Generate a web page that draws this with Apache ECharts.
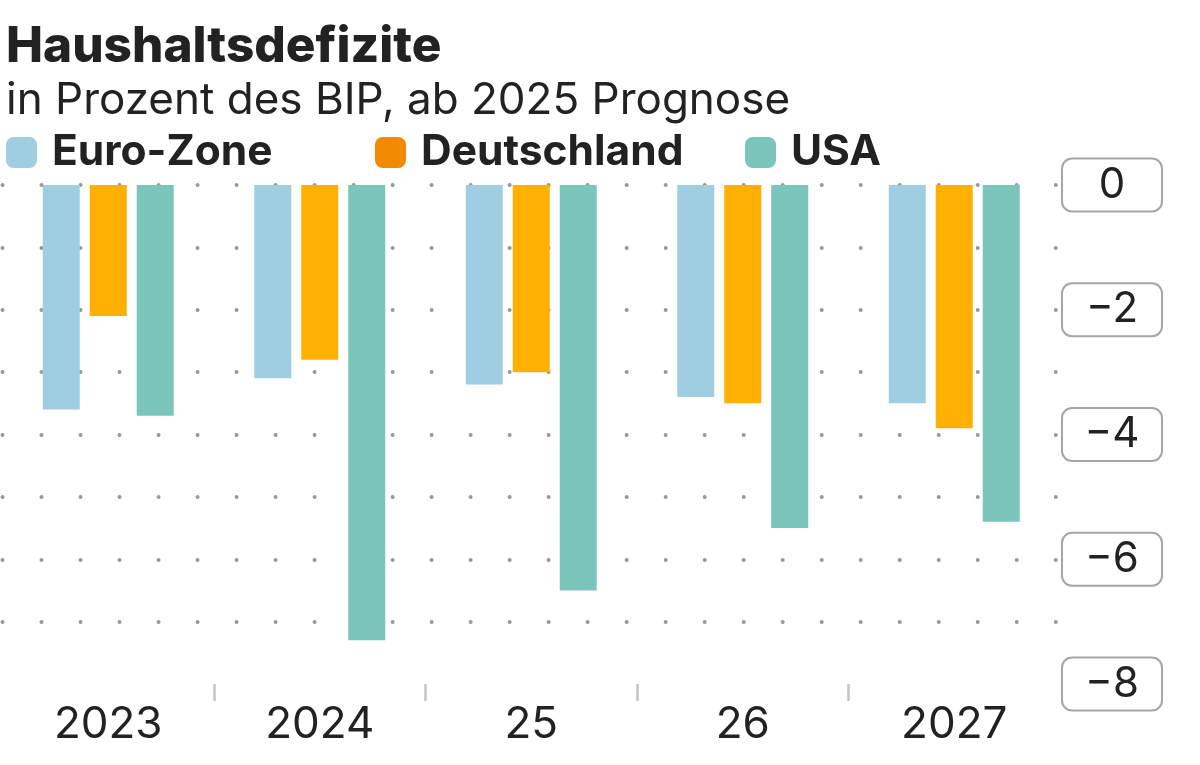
<!DOCTYPE html>
<html>
<head>
<meta charset="utf-8">
<script src="https://cdn.jsdelivr.net/npm/echarts@6/dist/echarts.min.js"></script>
<style>
html,body{margin:0;padding:0;background:#fff;}
#chart{width:1200px;height:765px;}
</style>
</head>
<body>
<div id="chart"></div>
<script>
const categories = ['2023', '2024', '25', '26', '2027'];
const euroZone = [-3.6, -3.1, -3.2, -3.4, -3.5];
const deutschland = [-2.1, -2.8, -3.0, -3.5, -3.9];
const usa = [-3.7, -7.3, -6.5, -5.5, -5.4];
const yTickLabels = [0, -2, -4, -6, -8];
const boundarySlots = ['s0', 's1', 's2', 's3', 's4', 's5'];

const FONT = 'Inter, "Noto Sans", sans-serif';
const DARK = '#222222';
const cEuro = '#9fcee2';
const cDe = '#ffb000';
const cDeLegend = '#f38a03';
const cUsa = '#7bc5bb';

const chart = echarts.init(document.getElementById('chart'), null, {renderer: 'canvas'});

function legendAt(left, name, color) {
  return {
    left: left, top: 131, padding: 0,
    itemWidth: 31, itemHeight: 31, itemGap: 0,
    icon: 'roundRect',
    selectedMode: false,
    data: [{name: name, itemStyle: {color: color}}],
    textStyle: {fontFamily: FONT, fontSize: 42.5, fontWeight: 'bold', color: DARK, padding: [0, 0, 0, 10], lineHeight: 31}
  };
}

const option = {
  backgroundColor: '#ffffff',
  animation: false,
  title: [
    {text: 'Haushaltsdefizite', left: 6, top: 22, padding: 0,
     textStyle: {fontFamily: FONT, fontSize: 49.5, fontWeight: 800, color: DARK}},
    {text: 'in Prozent des BIP, ab 2025 Prognose', left: 6, top: 79, padding: 0,
     textStyle: {fontFamily: FONT, fontSize: 44, fontWeight: 'normal', color: DARK}}
  ],
  legend: [
    legendAt(6, 'Euro-Zone', cEuro),
    legendAt(375, 'Deutschland', cDeLegend),
    legendAt(745, 'USA', cUsa)
  ],
  grid: {left: 2.5, right: 140, top: 185, bottom: 81, containLabel: false},
  xAxis: [
    {
      type: 'category', data: categories, position: 'bottom',
      axisLine: {show: false, onZero: false}, axisTick: {show: false},
      axisLabel: {fontFamily: FONT, fontSize: 44, color: DARK, margin: 19}
    },
    {
      type: 'category', data: boundarySlots, boundaryGap: false, position: 'bottom',
      axisLine: {show: false, onZero: false},
      axisLabel: {show: false},
      splitLine: {show: false},
      axisTick: {show: true, length: 17, interval: function (i) { return i > 0 && i < boundarySlots.length - 1; },
        lineStyle: {color: '#c4c4c4', width: 2.5}}
    }
  ],
  yAxis: [
    {
      type: 'value', min: -8, max: 0, interval: 2, position: 'right',
      axisLine: {show: false}, axisTick: {show: false}, splitLine: {show: false},
      axisLabel: {
        margin: 3,
        formatter: function (v) {
          if (yTickLabels.indexOf(v) < 0) return '';
          return '{a|' + (v < 0 ? '\u2212' + Math.abs(v) : String(v)) + '}';
        },
        backgroundColor: '#ffffff', borderColor: '#a6a6a6', borderWidth: 2, borderRadius: 9, padding: 0,
        rich: {a: {fontFamily: FONT, fontSize: 42, color: DARK, width: 98, height: 51, lineHeight: 51, align: 'center'}}
      }
    },
    {
      type: 'value', min: -8, max: 0, interval: 1, position: 'right',
      axisLine: {show: false}, axisTick: {show: false}, axisLabel: {show: false},
      splitLine: {show: true, showMinLine: false,
        lineStyle: {color: '#999999', width: 4, type: [0.01, 39], cap: 'round'}}
    }
  ],
  series: [
    {name: 'Euro-Zone', type: 'bar', data: euroZone, barWidth: 37, barGap: '27%', itemStyle: {color: cEuro}},
    {name: 'Deutschland', type: 'bar', data: deutschland, barWidth: 37, barGap: '27%', itemStyle: {color: cDe}},
    {name: 'USA', type: 'bar', data: usa, barWidth: 37, barGap: '27%', itemStyle: {color: cUsa}}
  ]
};
chart.setOption(option);
</script>
</body>
</html>
